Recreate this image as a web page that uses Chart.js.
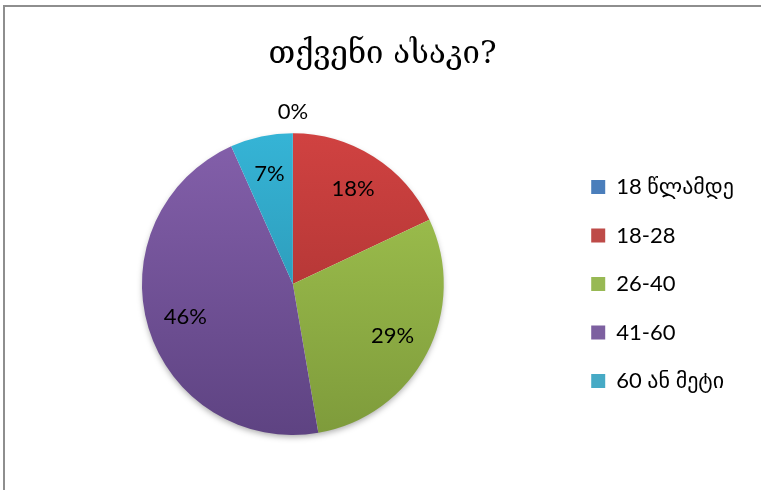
<!DOCTYPE html>
<html>
<head>
<meta charset="utf-8">
<script src="https://cdn.jsdelivr.net/npm/chart.js@4.4.1/dist/chart.umd.min.js"></script>
<style>
  html, body { margin: 0; padding: 0; background: #ffffff; }
  #wrap { position: relative; width: 761px; height: 490px; }
</style>
</head>
<body>
<div id="wrap"><canvas id="c" width="761" height="490"></canvas></div>
<script>
// ---- data ----
const title = "თქვენი ასაკი?";
const categories = ["18 წლამდე", "18-28", "26-40", "41-60", "60 ან მეტი"];
const shares = [0, 18, 29.3, 46, 6.7];            // percent of respondents
const shareLabels = ["0%", "18%", "29%", "46%", "7%"];

// ---- styling ----
const topColors = ["#4F86C6", "#D04241", "#A4C751", "#8460AB", "#35B4D6"];
const bottomColors = ["#3A669C", "#9E2E2D", "#7E9B3B", "#5E4382", "#2888A3"];
const solidColors = ["#4A7EBB", "#BE4B48", "#98B954", "#7D60A0", "#46AAC5"];

function sliceFill(context) {
  const chart = context.chart;
  const area = chart.chartArea;
  const i = context.dataIndex;
  if (!area) return solidColors[i];
  const g = chart.ctx.createLinearGradient(0, area.top, 0, area.bottom);
  g.addColorStop(0, topColors[i]);
  g.addColorStop(1, bottomColors[i]);
  return g;
}

const framePlugin = {
  id: 'frame',
  beforeDraw(chart) {
    const ctx = chart.ctx;
    ctx.save();
    ctx.fillStyle = '#ffffff';
    ctx.fillRect(0, 0, chart.width, chart.height);
    ctx.fillStyle = '#8e8e8e';
    ctx.fillRect(3, 5, 2, chart.height - 5);
    ctx.fillRect(3, 5, chart.width - 3, 2);
    ctx.restore();
  }
};

const shadowPlugin = {
  id: 'pieShadow',
  beforeDatasetsDraw(chart) {
    const meta = chart.getDatasetMeta(0);
    const arc = meta.data[0];
    if (!arc) return;
    const p = arc.getProps(['x', 'y', 'outerRadius'], true);
    const ctx = chart.ctx;
    ctx.save();
    ctx.shadowColor = 'rgba(0,0,0,0.35)';
    ctx.shadowBlur = 6;
    ctx.shadowOffsetY = 3;
    ctx.fillStyle = '#ffffff';
    ctx.beginPath();
    ctx.arc(p.x, p.y, p.outerRadius - 1, 0, Math.PI * 2);
    ctx.fill();
    ctx.restore();
  }
};

const labelPlugin = {
  id: 'sliceLabels',
  afterDatasetsDraw(chart) {
    const ctx = chart.ctx;
    const meta = chart.getDatasetMeta(0);
    ctx.save();
    ctx.font = '22px Lato, "DejaVu Sans", sans-serif';
    ctx.fillStyle = '#000000';
    ctx.textAlign = 'center';
    ctx.textBaseline = 'middle';
    meta.data.forEach((arc, i) => {
      const p = arc.getProps(['x', 'y', 'startAngle', 'endAngle', 'outerRadius'], true);
      const mid = (p.startAngle + p.endAngle) / 2;
      const r = shares[i] === 0 ? p.outerRadius + 21 : p.outerRadius * 0.745;
      ctx.fillText(shareLabels[i], p.x + Math.cos(mid) * r, p.y + Math.sin(mid) * r);
    });
    ctx.restore();
  }
};

new Chart(document.getElementById('c'), {
  type: 'pie',
  data: {
    labels: categories,
    datasets: [{
      data: shares,
      backgroundColor: sliceFill,
      borderWidth: 0
    }]
  },
  options: {
    responsive: false,
    animation: false,
    devicePixelRatio: 1,
    layout: { padding: { top: 0, bottom: 55, left: 21, right: 17 } },
    plugins: {
      title: {
        display: true,
        text: title,
        color: '#000000',
        font: { family: '"DejaVu Serif", serif', size: 31, weight: 'normal' },
        padding: { top: 36, bottom: 60 }
      },
      legend: {
        position: 'right',
        fullSize: false,
        labels: {
          color: '#000000',
          font: { family: 'Lato, "DejaVu Sans", sans-serif', size: 22 },
          boxWidth: 14,
          boxHeight: 14,
          padding: 26.5,
          generateLabels(chart) {
            return categories.map((c, i) => ({
              text: c,
              fillStyle: solidColors[i],
              strokeStyle: solidColors[i],
              lineWidth: 0,
              index: i,
              hidden: false
            }));
          }
        }
      },
      tooltip: { enabled: false }
    }
  },
  plugins: [framePlugin, shadowPlugin, labelPlugin]
});
</script>
</body>
</html>
